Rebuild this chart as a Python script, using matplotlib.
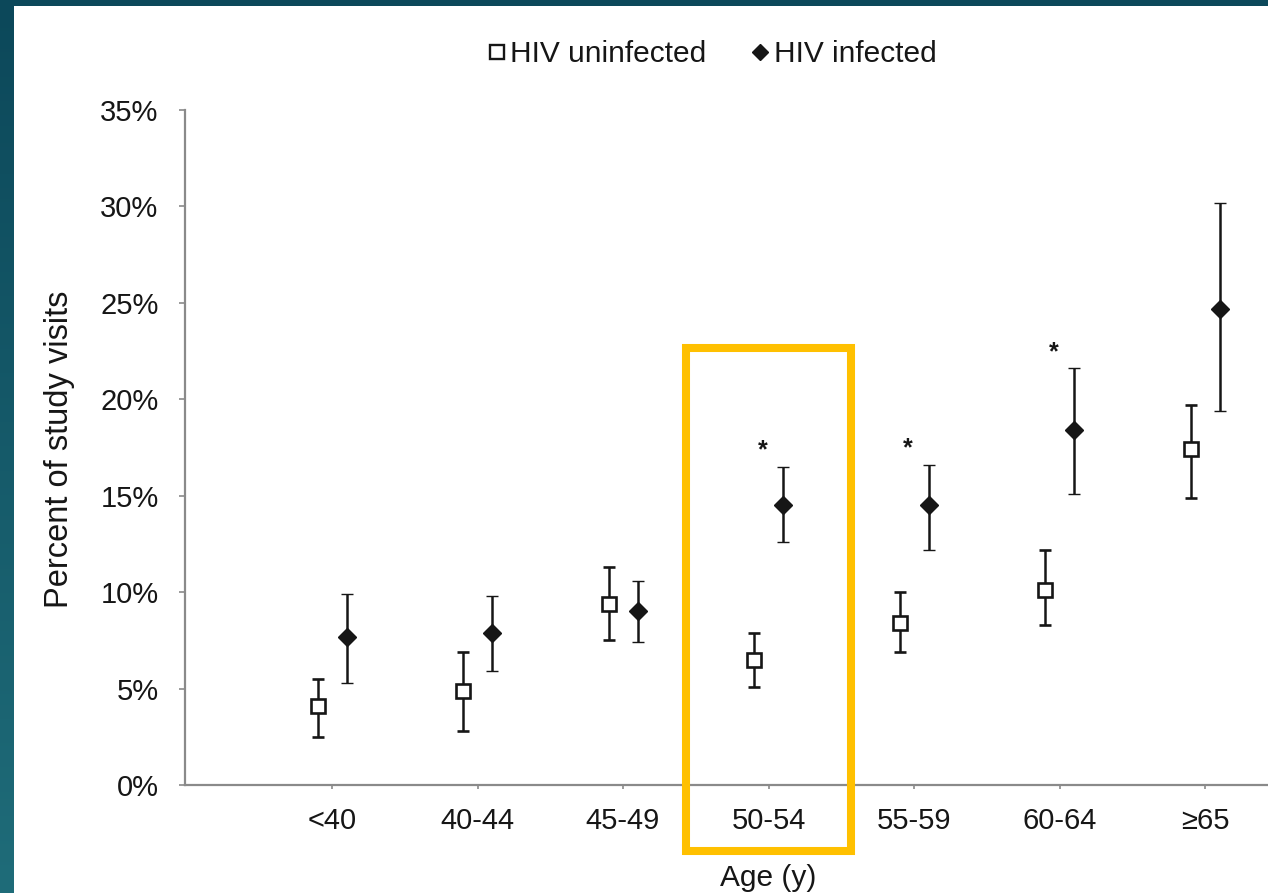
import matplotlib.pyplot as plt
import numpy as np
from matplotlib.lines import Line2D
from matplotlib.patches import Rectangle
from matplotlib.ticker import PercentFormatter, MultipleLocator
from matplotlib.transforms import blended_transform_factory

plt.rcParams['font.family'] = ['Liberation Sans', 'DejaVu Sans']

# age groups and percent of study visits (point estimate, lower, upper)
age_groups = ['<40', '40-44', '45-49', '50-54', '55-59', '60-64', '≥65']

uninfected = [4.1, 4.9, 9.4, 6.5, 8.4, 10.1, 17.4]
uninfected_lo = [2.5, 2.8, 7.5, 5.1, 6.9, 8.3, 14.9]
uninfected_hi = [5.5, 6.9, 11.3, 7.9, 10.0, 12.2, 19.7]

infected = [7.7, 7.9, 9.0, 14.5, 14.5, 18.4, 24.7]
infected_lo = [5.3, 5.9, 7.4, 12.6, 12.2, 15.1, 19.4]
infected_hi = [9.9, 9.8, 10.6, 16.5, 16.6, 21.6, 30.2]

significant = [False, False, False, True, True, True, False]
highlight = '50-54'

W, H = 1268, 893
fig = plt.figure(figsize=(W / 100, H / 100), dpi=100)
fig.patch.set_facecolor('white')

# slide frame: dark band on top, gradient band on the left
bg = fig.add_axes([0, 0, 1, 1], zorder=-10)
bg.set_xlim(0, W)
bg.set_ylim(H, 0)
bg.axis('off')
grad = np.linspace(0, 1, 256).reshape(-1, 1)
top_c = np.array([12, 72, 90]) / 255
bot_c = np.array([31, 108, 121]) / 255
img = top_c + grad[..., None] * (bot_c - top_c)
bg.imshow(img, extent=[0, 14, H, 0], aspect='auto')
bg.add_patch(Rectangle((0, 0), W, 6, color=top_c, lw=0))

# plot area
x0, x1 = 185, W
y0, y1 = 785, 110
ax = fig.add_axes([x0 / W, 1 - y0 / H, (x1 - x0) / W, (y0 - y1) / H])
ax.patch.set_alpha(0)

step = 145.5
ax.set_xlim(-(332 - x0) / step, (x1 - 332) / step)
ax.set_ylim(0, 35)

x = np.arange(len(age_groups))
dx = 14.5 / step
ink = '#161616'

ax.errorbar(x - dx, uninfected,
            yerr=[np.subtract(uninfected, uninfected_lo), np.subtract(uninfected_hi, uninfected)],
            fmt='s', ms=10.5, mfc='white', mec=ink, mew=1.9,
            ecolor=ink, elinewidth=1.8, capsize=4, capthick=1.8, zorder=3)
ax.errorbar(x + dx, infected,
            yerr=[np.subtract(infected, infected_lo), np.subtract(infected_hi, infected)],
            fmt='D', ms=9, mfc=ink, mec=ink, mew=1,
            ecolor=ink, elinewidth=1.8, capsize=4, capthick=1.8, zorder=3)

for xi, hi, sig in zip(x, infected_hi, significant):
    if sig:
        ax.annotate('*', (xi - 0.04, hi + 1.2), xytext=(0, -10), textcoords='offset points',
                    ha='center', va='baseline', fontsize=18, fontweight='bold', color=ink)

ax.spines['top'].set_visible(False)
ax.spines['right'].set_visible(False)
for s in ('left', 'bottom'):
    ax.spines[s].set_color('#8a8a8a')
    ax.spines[s].set_linewidth(1.6)

ax.yaxis.set_major_locator(MultipleLocator(5))
ax.yaxis.set_major_formatter(PercentFormatter(xmax=100, decimals=0))
ax.set_xticks(x)
ax.set_xticklabels(age_groups)
ax.tick_params(axis='y', length=4, width=1.2, color='#8a8a8a', pad=15,
               labelsize=21, labelcolor=ink)
ax.tick_params(axis='x', length=3, width=1.2, color='#8a8a8a', pad=13,
               labelsize=21, labelcolor=ink)

trans = blended_transform_factory(ax.transData, fig.transFigure)
ax.text(3, 1 - 878 / H, 'Age (y)', transform=trans, ha='center', va='center',
        fontsize=21.5, color=ink)
fig.text(60 / W, 1 - 449 / H, 'Percent of study visits', rotation=90,
         ha='center', va='center', fontsize=23.5, color=ink)

# highlight box around one age group
hx = age_groups.index(highlight)
ax.add_patch(Rectangle((hx - 0.565, -3.42), 1.13, 26.08, fill=False,
                       ec='#ffc000', lw=5.8, clip_on=False, zorder=5))

handles = [
    Line2D([], [], ls='none', marker='s', ms=9.5, mfc='white', mec=ink, mew=1.7),
    Line2D([], [], ls='none', marker='D', ms=8, mfc=ink, mec=ink),
]
fig.legend(handles, ['HIV uninfected', 'HIV infected'], loc='center',
           bbox_to_anchor=(712 / W, 1 - 54 / H), ncol=2, frameon=False,
           fontsize=21.5, handlelength=0.6, handletextpad=0.15, columnspacing=1.5,
           labelcolor=ink)

# caption running off the bottom edge
fig.text(40 / W, 1 - 913 / H, 'Number of study visits (N=10,572)', ha='left', va='baseline',
         fontsize=20, color='#9a9a9a')

fig.savefig('out.png', dpi=100)
